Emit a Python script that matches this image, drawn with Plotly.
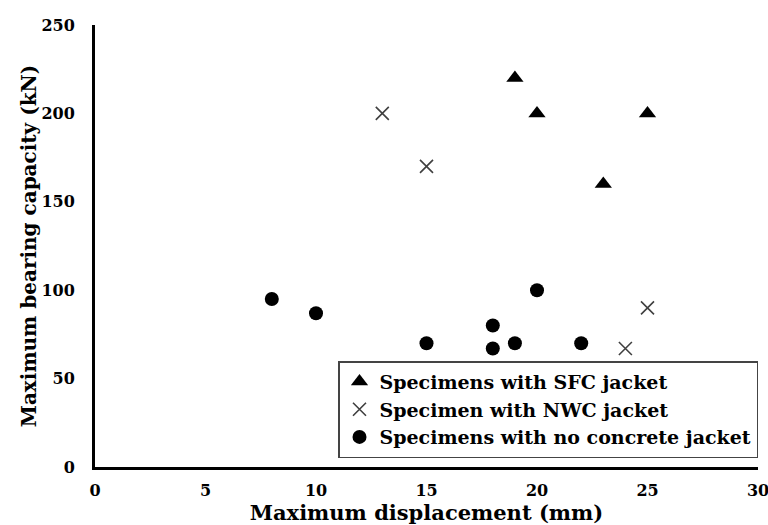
import plotly.graph_objects as go

sfc_x = [19, 20, 25, 23]
sfc_y = [220, 200, 200, 160]
nwc_x = [13, 15, 25, 24]
nwc_y = [200, 170, 90, 67]
none_x = [8, 10, 15, 18, 18, 19, 20, 22]
none_y = [95, 87, 70, 80, 67, 70, 100, 70]

x_ticks = [0, 5, 10, 15, 20, 25, 30]
y_ticks = [0, 50, 100, 150, 200, 250]

FONT = "DejaVu Serif"

fig = go.Figure()
fig.add_trace(go.Scatter(x=sfc_x, y=sfc_y, mode="markers", name="Specimens with SFC jacket",
                         marker=dict(symbol="triangle-up", size=15, color="black")))
fig.add_trace(go.Scatter(x=nwc_x, y=nwc_y, mode="markers", name="Specimen with NWC jacket",
                         marker=dict(symbol="x-thin", size=13, color="#404040",
                                     line=dict(width=1.6, color="#404040"))))
fig.add_trace(go.Scatter(x=none_x, y=none_y, mode="markers", name="Specimens with no concrete jacket",
                         marker=dict(symbol="circle", size=14, color="black")))

fig.update_layout(
    width=768, height=525,
    margin=dict(l=95, r=10, t=25, b=58, autoexpand=False),
    plot_bgcolor="white", paper_bgcolor="white",
    font=dict(family=FONT, color="black"),
    showlegend=True,
    legend=dict(x=1, xanchor="right", y=0.02, yanchor="bottom",
                bordercolor="#444", borderwidth=1.5, bgcolor="white",
                font=dict(family=FONT, size=19, weight="bold", color="black"),
                itemsizing="trace", itemwidth=30, tracegroupgap=0),
    xaxis=dict(range=[0, 30], tickvals=x_ticks, showgrid=False, zeroline=False,
               showline=True, linecolor="black", linewidth=3, ticks="",
               automargin=False, ticklabelstandoff=7, ticklabeloverflow="allow",
               tickfont=dict(family=FONT, size=16, weight="bold"),
               title=dict(text="Maximum displacement (mm)", standoff=0,
                          font=dict(family=FONT, size=21, weight="bold"))),
    yaxis=dict(range=[0, 250], tickvals=y_ticks, showgrid=False, zeroline=False,
               showline=True, linecolor="black", linewidth=3, ticks="",
               automargin=False, ticklabelstandoff=14, ticklabeloverflow="allow",
               tickfont=dict(family=FONT, size=16, weight="bold"),
               title=dict(text="Maximum bearing capacity (kN)", standoff=0,
                          font=dict(family=FONT, size=20, weight="bold"))),
)

fig.write_html("out.html")
